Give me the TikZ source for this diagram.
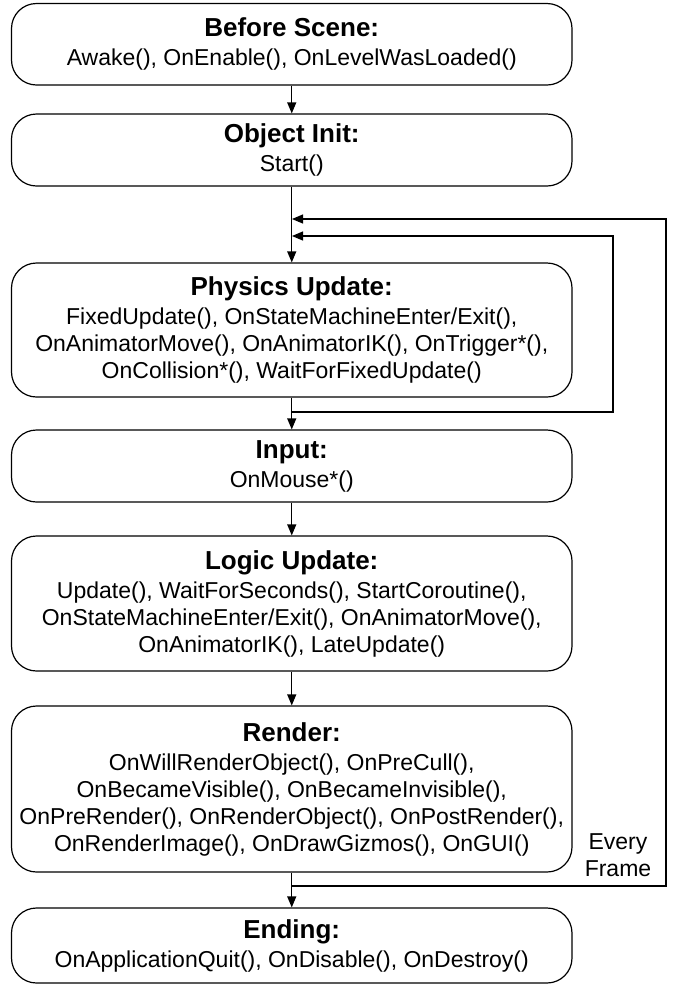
\documentclass[tikz,border=0pt]{standalone}
\usepackage{fontspec}
\setsansfont{Liberation Sans}
\usetikzlibrary{arrows.meta, positioning}

\newcommand{\stagetitle}[1]{{\fontsize{26}{30}\selectfont\bfseries #1}\\[2pt]}

\begin{document}
\begin{tikzpicture}[x=1pt, y=-1pt, font=\sffamily\fontsize{23}{27}\selectfont]
        % Setup the style for the stages
        \tikzset{stage style/.style={draw,
                                     rounded corners=25pt,
                                     line width=1.2pt,
                                     minimum width=560.5pt,
                                     inner sep=0pt,
                                     align=center},
                 flow style/.style={line width=1.2pt,
                                    -{Triangle[length=11pt, width=9pt]}}}

        \useasboundingbox (0,0) rectangle (678,986);

        % Draw the stages
        \node[stage style, minimum height=81.5pt] at (291.75, 44.25) (before) {\stagetitle{Before Scene:}Awake(), OnEnable(), OnLevelWasLoaded()};
        \node[stage style, minimum height=72pt] at (291.75, 150) (init) {\stagetitle{Object Init:}Start()};
        \node[stage style, minimum height=134pt] at (291.75, 330) (physics) {\stagetitle{Physics Update:}FixedUpdate(), OnStateMachineEnter/Exit(),\\ OnAnimatorMove(), OnAnimatorIK(), OnTrigger*(),\\ OnCollision*(), WaitForFixedUpdate()};
        \node[stage style, minimum height=72pt] at (291.75, 466) (input) {\stagetitle{Input:}OnMouse*()};
        \node[stage style, minimum height=135pt] at (291.75, 603.5) (logic) {\stagetitle{Logic Update:}Update(), WaitForSeconds(), StartCoroutine(),\\ OnStateMachineEnter/Exit(), OnAnimatorMove(),\\ OnAnimatorIK(), LateUpdate()};
        \node[stage style, minimum height=166pt] at (291.75, 789) (render) {\stagetitle{Render:}OnWillRenderObject(), OnPreCull(),\\ OnBecameVisible(), OnBecameInvisible(),\\ OnPreRender(), OnRenderObject(), OnPostRender(),\\ OnRenderImage(), OnDrawGizmos(), OnGUI()};
        \node[stage style, minimum height=75pt] at (291.75, 945.5) (ending) {\stagetitle{Ending:}OnApplicationQuit(), OnDisable(), OnDestroy()};
        \node[align=center, inner sep=0pt] at (618, 855) (every) {Every\\ Frame};

        % Points where the loops leave and join the main line
        \coordinate (physplit) at (292, 412);
        \coordinate (physjoin) at (292, 236);
        \coordinate (physside) at (613, 320);
        \coordinate (frsplit) at (292, 886);
        \coordinate (frjoin) at (292, 219);
        \coordinate (frside) at (666, 550);

        % Connect the stages with arrows
        \draw[flow style] (before) -- (init);
        \draw[flow style] (init) -- (physics);
        \draw[flow style] (physics) -- (input);
        \draw[flow style] (input) -- (logic);
        \draw[flow style] (logic) -- (render);
        \draw[flow style] (render) -- (ending);
        \draw[flow style] (physplit) -| (physside) |- (physjoin);
        \draw[flow style] (frsplit) -| (frside) |- (frjoin);
\end{tikzpicture}
\end{document}
